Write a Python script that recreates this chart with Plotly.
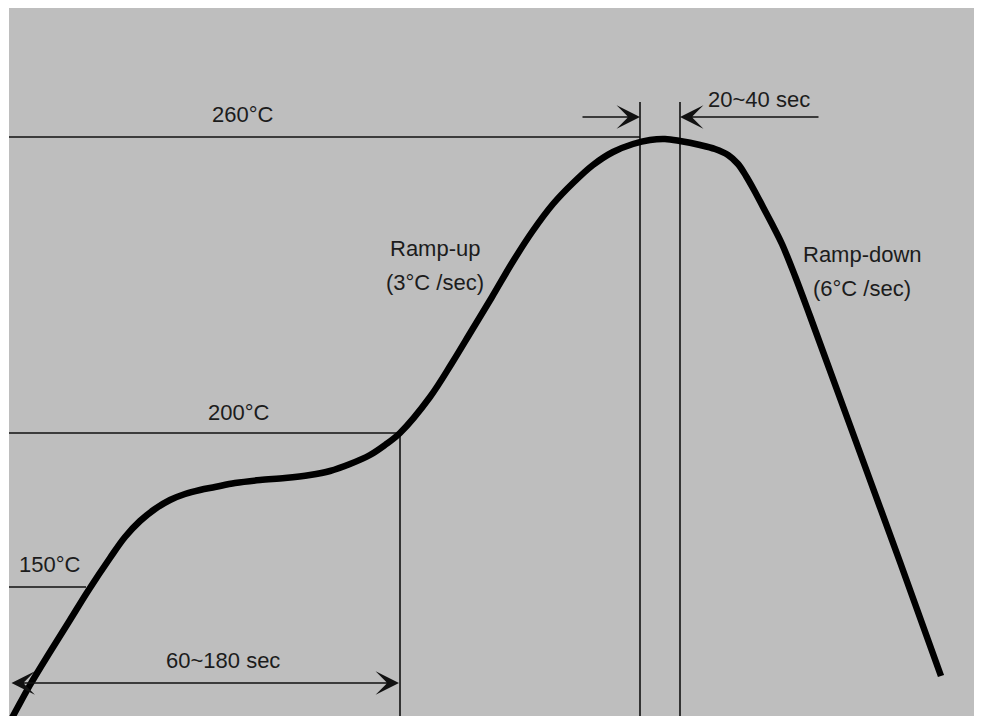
import plotly.graph_objects as go

# Schematic reflow profile, drawn in the picture's own units (x right, y down)
curve_x = [5, 13, 30, 50, 70, 88, 110, 125, 140, 155, 170, 185, 200, 215, 235, 260, 285, 310, 330,
           350, 370, 385, 400, 430, 452, 472, 492, 512, 532, 553, 573, 593, 613, 633,
           650, 665, 680, 700, 715, 728, 738, 746, 754, 763, 772, 782, 795, 810, 840, 870, 900, 941]
curve_y = [730, 716, 685, 652, 620, 591, 558, 537, 521, 509, 500, 494, 490, 487, 483, 480, 478, 475, 471,
           464, 455, 445, 433, 397, 363, 330, 297, 263, 232, 204, 183, 165, 152, 144,
           140, 139, 141, 145, 149, 155, 164, 176, 190, 207, 224, 244, 276, 316, 398, 480, 562, 676]

level_labels = ["260°C", "200°C", "150°C"]
level_y = [137, 433, 587]
level_x_end = [640, 400, 86]
level_label_x = [243, 239, 50]
level_label_y = [114, 412, 564]

left_edge = 9
bottom = 716
top = 8
right = 982

peak_bounds_x = [640, 680]
peak_bounds_top = 102
soak_end_x = 400

fig = go.Figure()

line_col = "#111111"
text_col = "#1c1c1c"
font = dict(family="Liberation Sans, Arial, sans-serif", size=22, color=text_col)

# level lines
for yv, xe in zip(level_y, level_x_end):
    fig.add_trace(go.Scatter(x=[left_edge, xe], y=[yv, yv], mode="lines",
                             line=dict(color=line_col, width=1.6), hoverinfo="skip"))

# vertical bounds
for xv in peak_bounds_x:
    fig.add_trace(go.Scatter(x=[xv, xv], y=[peak_bounds_top, bottom + 5], mode="lines",
                             line=dict(color=line_col, width=1.6), hoverinfo="skip"))
fig.add_trace(go.Scatter(x=[soak_end_x, soak_end_x], y=[level_y[1], bottom + 5], mode="lines",
                         line=dict(color=line_col, width=1.6), hoverinfo="skip"))

# profile curve
fig.add_trace(go.Scatter(x=curve_x, y=curve_y, mode="lines",
                         line=dict(color="#000000", width=6.5, shape="spline", smoothing=1.0),
                         hoverinfo="skip"))

annotations = []
for lab, lx, ly in zip(level_labels, level_label_x, level_label_y):
    annotations.append(dict(x=lx, y=ly, text=lab, showarrow=False, font=font,
                            xanchor="center", yanchor="middle"))

texts = [("20~40 sec", 759, 99), ("60~180 sec", 223, 660),
         ("Ramp-up", 435, 248), ("(3°C /sec)", 435, 282),
         ("Ramp-down", 862, 254), ("(6°C /sec)", 862, 288)]
for t, tx, ty in texts:
    annotations.append(dict(x=tx, y=ty, text=t, showarrow=False, font=font,
                            xanchor="center", yanchor="middle"))

arrow_y = 117
arrow_common = dict(text="", showarrow=True, arrowhead=3, arrowsize=2.6, arrowwidth=1.5,
                    arrowcolor=line_col, axref="x", ayref="y", xref="x", yref="y")
annotations.append(dict(x=peak_bounds_x[0], y=arrow_y, ax=581, ay=arrow_y, **arrow_common))
annotations.append(dict(x=peak_bounds_x[1], y=arrow_y, ax=820, ay=arrow_y, **arrow_common))
annotations.append(dict(x=soak_end_x - 1, y=683, ax=left_edge + 1, ay=683,
                        arrowside="end+start", **arrow_common))

W, H = 974, 708
fig.update_layout(
    width=W, height=H,
    margin=dict(l=0, r=0, t=0, b=0),
    paper_bgcolor="#ffffff",
    plot_bgcolor="#bebebe",
    showlegend=False,
    annotations=annotations,
    xaxis=dict(range=[left_edge, right], domain=[1 / W, 1], visible=False, fixedrange=True),
    yaxis=dict(range=[bottom, top], domain=[0, 1], visible=False, fixedrange=True),
)

fig.write_html("out.html")
